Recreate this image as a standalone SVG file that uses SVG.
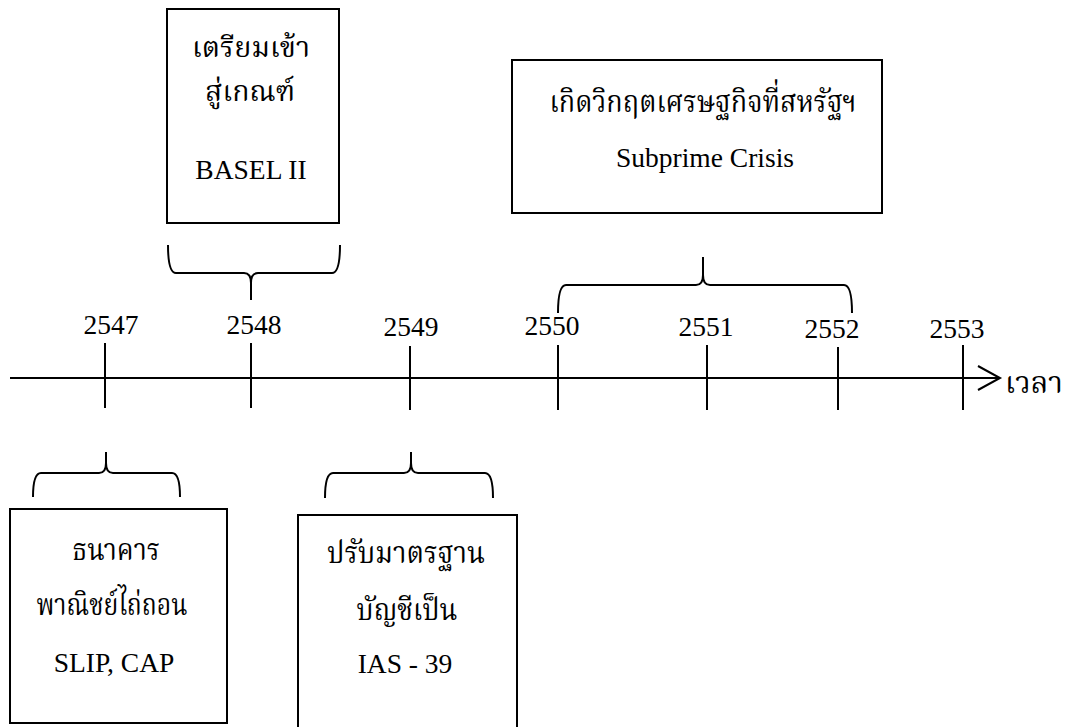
<svg xmlns="http://www.w3.org/2000/svg" width="1087" height="727" viewBox="0 0 1087 727">
<style>
.box{fill:#fff;stroke:#000;stroke-width:2}
.ln{fill:none;stroke:#000;stroke-width:2;stroke-linecap:butt}
.br{fill:none;stroke:#000;stroke-width:2;stroke-linejoin:round}
text{font-family:"Liberation Serif","Noto Serif Thai","Noto Sans Thai","Noto Sans",serif;font-size:27.5px;fill:#000;text-anchor:middle}
.th{font-family:"Noto Serif Thai","Noto Sans Thai","Liberation Serif","Noto Sans",serif;font-size:31px}
.ts{font-size:28px}
</style>
<rect width="1087" height="727" fill="#fff"/>
<g id="connectors">
<line class="ln" x1="10" y1="378" x2="1000" y2="378" stroke-width="2.5"/>
<polyline class="ln" points="978,366 1000,378 978,390" stroke-width="2.5"/>
<line class="ln" x1="105" y1="343" x2="105" y2="408"/>
<line class="ln" x1="251" y1="343" x2="251" y2="408"/>
<line class="ln" x1="410" y1="346" x2="410" y2="410"/>
<line class="ln" x1="558" y1="345" x2="558" y2="410"/>
<line class="ln" x1="707" y1="345" x2="707" y2="410"/>
<line class="ln" x1="838" y1="347" x2="838" y2="410"/>
<line class="ln" x1="963" y1="345" x2="963" y2="410"/>
<path class="br" d="M168,245 Q168,273 176,273 L244,273 Q251,273 251,283 L251,300 M251,283 Q251,273 258,273 L332,273 Q340,273 340,245"/>
<path class="br" d="M558,313 Q558,285 566,285 L696,285 Q703,285 703,275 L703,257 M703,275 Q703,285 710,285 L844,285 Q852,285 852,313"/>
<path class="br" d="M33,497 Q33,473 41,473 L99,473 Q106,473 106,463 L106,452 M106,463 Q106,473 113,473 L172,473 Q180,473 180,497"/>
<path class="br" d="M325,498 Q325,473 333,473 L404,473 Q411,473 411,463 L411,452 M411,463 Q411,473 418,473 L485,473 Q493,473 493,498"/>
</g>
<g id="axis-labels">
<text x="111" y="334">2547</text>
<text x="254" y="334">2548</text>
<text x="411" y="336">2549</text>
<text x="552" y="335">2550</text>
<text x="706" y="336">2551</text>
<text x="832" y="338">2552</text>
<text x="957" y="338">2553</text>
<text class="th" x="1034" y="393" textLength="58" lengthAdjust="spacingAndGlyphs">เวลา</text>
</g>
<g id="node-basel">
<rect class="box" x="167" y="9" width="172" height="214"/>
<text class="th ts" x="251" y="57" textLength="118" lengthAdjust="spacingAndGlyphs">เตรียมเข้า</text>
<text class="th ts" x="250" y="101" textLength="90" lengthAdjust="spacingAndGlyphs">สู่เกณฑ์</text>
<text x="251" y="179">BASEL II</text>
</g>
<g id="node-subprime">
<rect class="box" x="512" y="60" width="370" height="153"/>
<text class="th" x="703" y="112" textLength="307" lengthAdjust="spacingAndGlyphs">เกิดวิกฤตเศรษฐกิจที่สหรัฐฯ</text>
<text x="705" y="167">Subprime Crisis</text>
</g>
<g id="node-bank">
<rect class="box" x="10" y="509" width="217" height="214"/>
<text class="th" x="116" y="560" textLength="88" lengthAdjust="spacingAndGlyphs">ธนาคาร</text>
<text class="th" x="112" y="615" textLength="151" lengthAdjust="spacingAndGlyphs">พาณิชย์ไถ่ถอน</text>
<text x="114" y="672">SLIP, CAP</text>
</g>
<g id="node-ias">
<rect class="box" x="298" y="515" width="219" height="230"/>
<text class="th" x="406" y="563" textLength="158" lengthAdjust="spacingAndGlyphs">ปรับมาตรฐาน</text>
<text class="th" x="407" y="620" textLength="101" lengthAdjust="spacingAndGlyphs">บัญชีเป็น</text>
<text x="405" y="673">IAS - 39</text>
</g>
</svg>
